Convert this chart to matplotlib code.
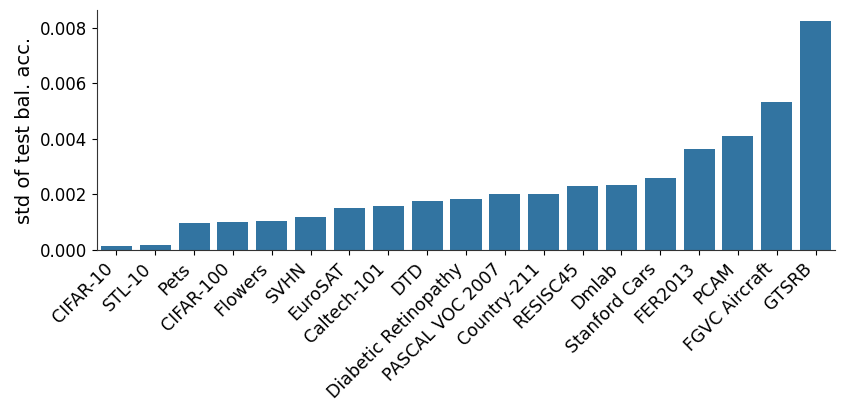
import matplotlib
matplotlib.use("Agg")
import matplotlib.pyplot as plt
import numpy as np

datasets = ["CIFAR-10", "STL-10", "Pets", "CIFAR-100", "Flowers", "SVHN", "EuroSAT",
            "Caltech-101", "DTD", "Diabetic Retinopathy", "PASCAL VOC 2007", "Country-211",
            "RESISC45", "Dmlab", "Stanford Cars", "FER2013", "PCAM", "FGVC Aircraft", "GTSRB"]
std_values = [0.000145, 0.00019, 0.00099, 0.00100, 0.00105, 0.00120, 0.00150,
              0.00159, 0.00178, 0.00182, 0.00203, 0.00203, 0.00230, 0.00233,
              0.00258, 0.00362, 0.00409, 0.00534, 0.00823]

plt.rcParams['font.family'] = ['DejaVu Sans']
fig = plt.figure(figsize=(8.47, 4.17), dpi=100)
ax = fig.add_axes([97/847, 1 - 250/417, (835-97)/847, (250-10)/417])
x = np.arange(len(datasets))
ax.bar(x, std_values, width=0.8, color="#3274a1")
ax.set_xlim(-0.5, len(datasets) - 0.5)
ax.set_ylim(0, max(std_values) * 1.05)
ax.set_yticks([0, 0.002, 0.004, 0.006, 0.008])
ax.set_yticklabels(["0.000", "0.002", "0.004", "0.006", "0.008"], fontsize=12)
ax.set_xticks(x)
ax.set_xticklabels(datasets, rotation=45, ha="right", fontsize=12.5)
ax.set_ylabel("std of test bal. acc.", fontsize=14)
for s in ["top", "right"]:
    ax.spines[s].set_visible(False)
for s in ["left", "bottom"]:
    ax.spines[s].set_color("#333333")
fig.savefig("out.png", dpi=100)
